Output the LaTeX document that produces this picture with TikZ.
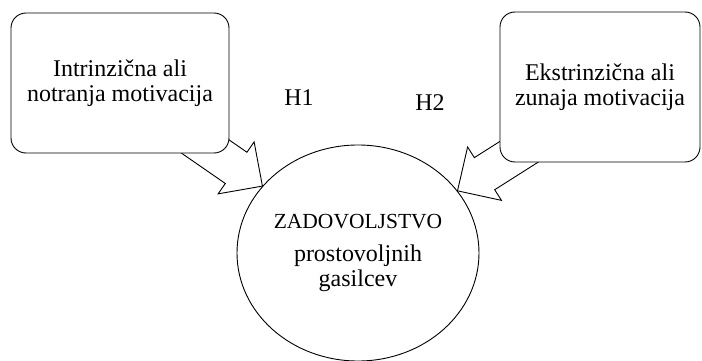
\documentclass[tikz,border=0pt]{standalone}
\usepackage{fontspec}
\setmainfont{Liberation Serif}
\usetikzlibrary{shapes.geometric,calc}
\pgfdeclarelayer{back}
\pgfsetlayers{back,main}
\tikzset{
  factor/.style={draw, line width=0.9pt, fill=white, rounded corners=15pt, align=center, inner sep=2pt},
  outcome/.style={draw, ellipse, line width=0.9pt, align=center, inner sep=0pt},
  hyp/.style={inner sep=0pt},
  blockarr/.style={draw, line width=0.9pt, line join=miter, fill=white},
}
% block arrow from #1 (tail) to #2 (tip)
\newcommand{\blockarrow}[2]{%
  \coordinate (ba) at ($(#2)!32pt!(#1)$);
  \draw[blockarr] (#2) -- ($(ba)!31.6pt!90:(#1)$) -- ($(ba)!19pt!90:(#1)$)
    -- ($(#1)!19pt!-90:(ba)$) -- ($(#1)!19pt!90:(ba)$)
    -- ($(ba)!19pt!-90:(#1)$) -- ($(ba)!31.6pt!-90:(#1)$) -- cycle;
}

\begin{document}
\begin{tikzpicture}[x=1pt,y=-1pt,font=\fontsize{24}{25}\selectfont]
  \useasboundingbox (0,0) rectangle (702,361);
  \node[factor, minimum width=218pt, minimum height=140pt] (intr) at (120,83)
    {Intrinzična ali\\notranja motivacija};
  \node[factor, minimum width=200pt, minimum height=150pt] (ekst) at (600,87)
    {Ekstrinzična ali\\zunaja motivacija};
  \node[outcome, minimum width=242pt, minimum height=216pt] (zad) at (358,253)
    {{\fontsize{21.5}{25}\selectfont ZADOVOLJSTVO}\\[8pt]prostovoljnih\\gasilcev};
  \node[hyp] (h1) at (299,98) {H1};
  \node[hyp] (h2) at (430,103) {H2};
  % arrow tails, hidden behind the boxes
  \coordinate (tail1) at ($(intr.center)+(8,10)$);
  \coordinate (tail2) at ($(ekst.center)+(-4,16)$);
  \begin{pgfonlayer}{back}
    \blockarrow{tail1}{zad.145}
    \blockarrow{tail2}{zad.32}
  \end{pgfonlayer}
\end{tikzpicture}
\end{document}
